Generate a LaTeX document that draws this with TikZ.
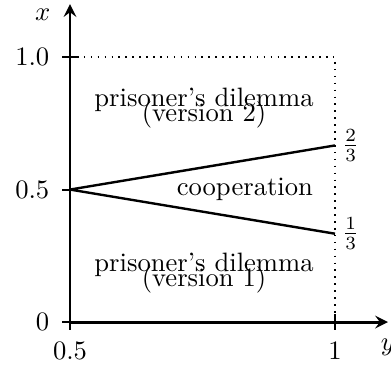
\documentclass[tikz,border=0pt]{standalone}
\usepackage{amsmath,amssymb}
\usepackage{tikz}
\usetikzlibrary{positioning}

\begin{document}
\begin{tikzpicture}[>=stealth]
    \useasboundingbox (-0.925,-0.568) rectangle (4.24,4.254);
    \coordinate (o) at (0,0);
    \coordinate (xend) at (0,4.2);
    \coordinate (yend) at (4.2,0);
    \coordinate (mid) at (0,1.75);
    \coordinate (top) at (0,3.5);
    \coordinate (corner) at (3.5,3.5);
    \coordinate (right) at (3.5,0);
    \coordinate (hi) at (3.5,2.333);
    \coordinate (lo) at (3.5,1.167);

    % region borders
    \draw[dotted, semithick] (top) -- (corner) -- (right);
    \draw[line width=0.9pt] (mid) -- (hi);
    \draw[line width=0.9pt] (mid) -- (lo);

    % axes
    \draw[->, line width=1.1pt] (o) -- (xend);
    \draw[->, line width=1.1pt] (o) -- (yend);
    \node at (-0.36,4.06) (xlab) {$x$};
    \node[below=0.1cm of yend] (ylab) {$y$};

    % ticks
    \draw[thick] (-0.1,0) -- (0.1,0);
    \draw[thick] (-0.1,1.75) -- (0.1,1.75);
    \draw[thick] (-0.1,3.5) -- (0.1,3.5);
    \draw[thick] (0,-0.1) -- (0,0.1);
    \draw[thick] (3.5,-0.1) -- (3.5,0.1);
    \node[left] at (-0.15,0) (t0) {$0$};
    \node[left] at (-0.15,1.75) (t05) {$0.5$};
    \node[left] at (-0.15,3.5) (t1) {$1.0$};
    \node[below] at (0,-0.15) (s05) {$0.5$};
    \node[below] at (3.5,-0.15) (s1) {$1$};
    \node[right, inner sep=2.5pt] at (hi) (ftwo) {$\frac{2}{3}$};
    \node[right, inner sep=2.5pt] at (lo) (fone) {$\frac{1}{3}$};

    % regions
    \node[align=center] at (1.77,2.83) (pd2) {prisoner's dilemma\\[-6.5pt](version 2)};
    \node at (2.31,1.75) (coop) {cooperation};
    \node[align=center] at (1.77,0.65) (pd1) {prisoner's dilemma\\[-6.5pt](version 1)};
\end{tikzpicture}
\end{document}
